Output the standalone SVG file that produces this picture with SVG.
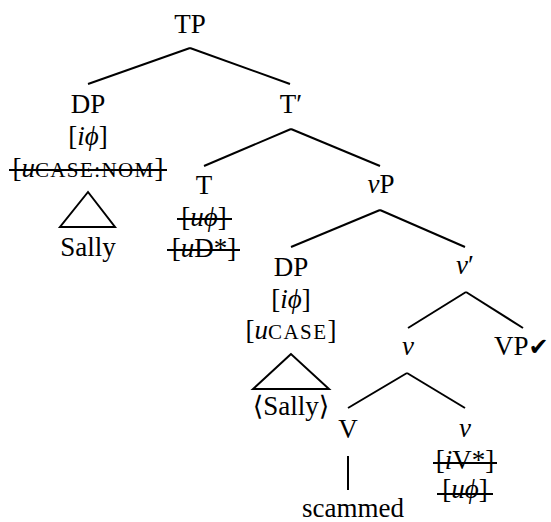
<svg xmlns="http://www.w3.org/2000/svg" width="551" height="522" viewBox="0 0 551 522">
  <style>
    text { font-family: "Liberation Serif", "DejaVu Serif", serif; font-size: 27px; fill: #000; text-anchor: middle; }
    .it { font-style: italic; }
    .sc { font-size: 21px; letter-spacing: 1.4px; }
    .edge { stroke: #000; stroke-width: 2; fill: none; stroke-linecap: butt; }
    .strike { stroke: #000; stroke-width: 2.2; }
    .tri { stroke: #000; stroke-width: 2; fill: none; stroke-linejoin: miter; }
    .check { font-family: "DejaVu Sans", sans-serif; font-size: 24px; }
  </style>

  <!-- branches of the tree -->
  <g id="connectors">
    <line class="edge" x1="190" y1="48" x2="88" y2="84"/>
    <line class="edge" x1="190" y1="48" x2="290" y2="84"/>
    <line class="edge" x1="291" y1="129" x2="204" y2="166"/>
    <line class="edge" x1="291" y1="129" x2="380" y2="166"/>
    <line class="edge" x1="380" y1="210" x2="291" y2="247"/>
    <line class="edge" x1="380" y1="210" x2="465" y2="247"/>
    <line class="edge" x1="466" y1="292" x2="408" y2="328"/>
    <line class="edge" x1="466" y1="292" x2="523" y2="328"/>
    <line class="edge" x1="407" y1="373" x2="348" y2="408"/>
    <line class="edge" x1="407" y1="373" x2="465" y2="408"/>
    <line class="edge" x1="348" y1="456" x2="348" y2="490"/>
  </g>

  <g id="tp">
    <text x="190" y="33">TP</text>
  </g>

  <g id="dp-subject">
    <text x="88" y="113">DP</text>
    <text x="88" y="145">[<tspan class="it">i</tspan><tspan class="it">ϕ</tspan>]</text>
    <text x="88" y="177">[<tspan class="it">u</tspan><tspan class="sc">CASE:NOM</tspan>]</text>
    <line class="strike" x1="9" y1="170" x2="167" y2="170"/>
    <polygon class="tri" points="88,192 60,227 115,227"/>
    <text x="88" y="256">Sally</text>
  </g>

  <g id="t-bar">
    <text x="291" y="113">T′</text>
  </g>

  <g id="t-head">
    <text x="204" y="194">T</text>
    <text x="204" y="226">[<tspan class="it">u</tspan><tspan class="it">ϕ</tspan>]</text>
    <line class="strike" x1="177" y1="219" x2="232" y2="219"/>
    <text x="204" y="257">[<tspan class="it">u</tspan>D*]</text>
    <line class="strike" x1="167" y1="250" x2="240" y2="250"/>
  </g>

  <g id="vp-little">
    <text x="381" y="193"><tspan class="it">ν</tspan>P</text>
  </g>

  <g id="dp-object">
    <text x="291" y="276">DP</text>
    <text x="291" y="308">[<tspan class="it">i</tspan><tspan class="it">ϕ</tspan>]</text>
    <text x="291" y="339">[<tspan class="it">u</tspan><tspan class="sc">CASE</tspan>]</text>
    <polygon class="tri" points="291,354 253,389 329,389"/>
    <text x="291" y="415">⟨Sally⟩</text>
  </g>

  <g id="v-bar">
    <text x="465" y="274"><tspan class="it">ν</tspan>′</text>
  </g>

  <g id="v-little">
    <text x="408" y="355" class="it">ν</text>
  </g>

  <g id="vp">
    <text x="494" y="355" style="text-anchor:start">VP<tspan class="check">✔</tspan></text>
  </g>

  <g id="v-verb">
    <text x="348" y="438">V</text>
    <text x="353" y="517">scammed</text>
  </g>

  <g id="v-head">
    <text x="465" y="437" class="it">ν</text>
    <text x="465" y="469">[<tspan class="it">i</tspan>V*]</text>
    <line class="strike" x1="433" y1="463" x2="497" y2="463"/>
    <text x="465" y="498">[<tspan class="it">u</tspan><tspan class="it">ϕ</tspan>]</text>
    <line class="strike" x1="437" y1="494" x2="493" y2="494"/>
  </g>
</svg>
